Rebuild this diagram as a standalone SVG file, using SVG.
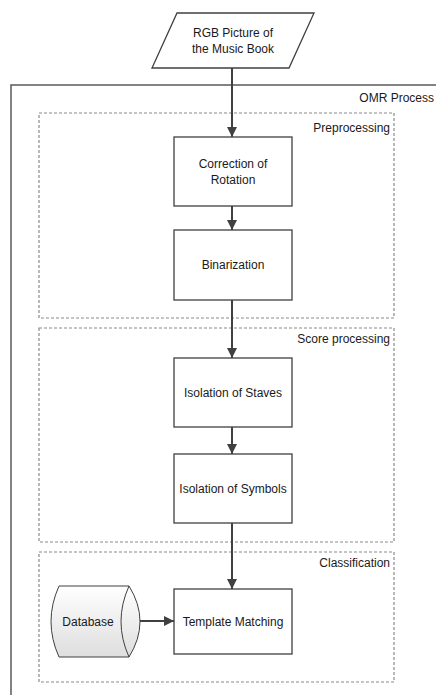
<svg xmlns="http://www.w3.org/2000/svg" width="436" height="695" viewBox="0 0 436 695">
<style>
text{font-family:"Liberation Sans",Arial,sans-serif;font-size:12px;fill:#1a1a1a}
.box{fill:#fff;stroke:#404040;stroke-width:1.3}
.grp{fill:none;stroke:#8a8a8a;stroke-width:1.2;stroke-dasharray:3 2}
.c{text-anchor:middle}
.r{text-anchor:end}
.edge{stroke:#404040;stroke-width:2;fill:none}
</style>
<defs>
<marker id="ah" viewBox="0 0 10 10" refX="10" refY="5" markerWidth="10" markerHeight="10" markerUnits="userSpaceOnUse" orient="auto">
<path d="M0,0 L10,5 L0,10 Z" fill="#404040"/>
</marker>
<linearGradient id="dbg" x1="0" y1="0" x2="0" y2="1">
<stop offset="0" stop-color="#ffffff"/>
<stop offset="1" stop-color="#dedede"/>
</linearGradient>
</defs>
<g id="omr-process">
<rect x="11" y="85" width="440" height="630" fill="none" stroke="#595959" stroke-width="1.5"/>
<text class="r" x="434" y="102">OMR Process</text>
</g>
<g id="preprocessing">
<rect class="grp" x="39" y="113" width="355" height="205"/>
<text class="r" x="390" y="132">Preprocessing</text>
</g>
<g id="score-processing">
<rect class="grp" x="39" y="328" width="355" height="214"/>
<text class="r" x="390" y="343">Score processing</text>
</g>
<g id="classification">
<rect class="grp" x="39" y="552" width="355" height="130"/>
<text class="r" x="390" y="567">Classification</text>
</g>
<g id="input">
<path d="M177,13 L314,13 L289,68 L152,68 Z" fill="#fff" stroke="#404040" stroke-width="1.3"/>
<text class="c" x="233" y="37">RGB Picture of</text>
<text class="c" x="233" y="53">the Music Book</text>
</g>
<g id="connectors">
<line class="edge" x1="232" y1="68" x2="232" y2="137" marker-end="url(#ah)"/>
<line class="edge" x1="232" y1="206" x2="232" y2="230" marker-end="url(#ah)"/>
<line class="edge" x1="232" y1="300" x2="232" y2="358" marker-end="url(#ah)"/>
<line class="edge" x1="232" y1="427" x2="232" y2="454" marker-end="url(#ah)"/>
<line class="edge" x1="232" y1="523" x2="232" y2="589" marker-end="url(#ah)"/>
<line class="edge" x1="129" y1="621" x2="174" y2="621" marker-end="url(#ah)"/>
</g>
<g id="correction">
<rect class="box" x="174" y="137" width="118" height="69"/>
<text class="c" x="233" y="168">Correction of</text>
<text class="c" x="233" y="184">Rotation</text>
</g>
<g id="binarization">
<rect class="box" x="174" y="230" width="118" height="70"/>
<text class="c" x="233" y="269">Binarization</text>
</g>
<g id="staves">
<rect class="box" x="174" y="358" width="118" height="69"/>
<text class="c" x="233" y="397">Isolation of Staves</text>
</g>
<g id="symbols">
<rect class="box" x="174" y="454" width="118" height="69"/>
<text class="c" x="233" y="493">Isolation of Symbols</text>
</g>
<g id="template">
<rect class="box" x="174" y="589" width="118" height="65"/>
<text class="c" x="233" y="626">Template Matching</text>
</g>
<g id="database">
<path d="M59,586 L129,586 Q151,621.5 129,657 L59,657 Q43,621.5 59,586 Z" fill="url(#dbg)" stroke="#404040" stroke-width="1"/>
<path d="M129,586 Q113,621.5 129,657" fill="none" stroke="#404040" stroke-width="1"/>
<text class="c" x="88" y="626">Database</text>
</g>
</svg>
